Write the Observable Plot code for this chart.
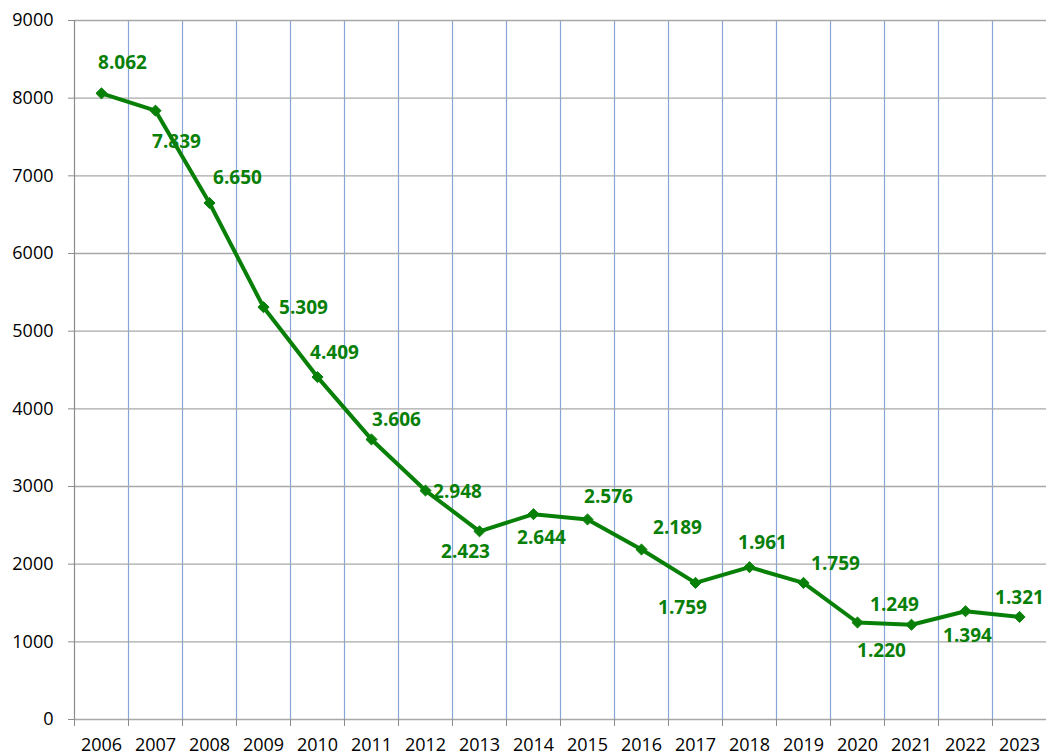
<!DOCTYPE html>
<html>
<head>
<meta charset="utf-8">
<script src="https://cdn.jsdelivr.net/npm/d3@7"></script>
<script src="https://cdn.jsdelivr.net/npm/@observablehq/plot@0.6"></script>
<style>
  html, body { margin: 0; padding: 0; background: #fff; }
  #chart { width: 1046px; height: 756px; }
</style>
</head>
<body>
<div id="chart"></div>
<script>
// ---- data ----
const years = [2006, 2007, 2008, 2009, 2010, 2011, 2012, 2013, 2014, 2015, 2016, 2017, 2018, 2019, 2020, 2021, 2022, 2023];
const values = [8062, 7839, 6650, 5309, 4409, 3606, 2948, 2423, 2644, 2576, 2189, 1759, 1961, 1759, 1249, 1220, 1394, 1321];
const yTicks = [0, 1000, 2000, 3000, 4000, 5000, 6000, 7000, 8000, 9000];

// ---- layout of data labels (pixel offsets from each point) ----
const labelDx = [21, 21, 28, 40, 17, 25, 32, -14, 8, 21, 36, -13, 13, 32, 37, -30, 2, 0];
const labelDy = [-30, 31, -25, 1, -24, -20, 1, 21, 24, -23, -22, 25, -24, -19, -18, 26, 25, -19];

const fmt = v => d3.format(",")(v).replace(/,/g, ".");
const rows = years.map((year, i) => ({year, value: values[i]}));
const boundaries = years.slice(1).map(y => y - 0.5);

const green = "#088008";
const font = "'Open Sans', 'Liberation Sans', sans-serif";

const labelMarks = rows.map((d, i) =>
  Plot.text([d], {
    x: "year", y: "value", text: r => fmt(r.value),
    dx: labelDx[i], dy: labelDy[i],
    fill: green, fontWeight: "bold", fontSize: 19
  })
);

const chart = Plot.plot({
  width: 1046,
  height: 756,
  marginLeft: 74,
  marginRight: 0,
  marginTop: 20,
  marginBottom: 37,
  style: {fontFamily: font, fontSize: "18px", color: "#000", background: "#fff"},
  x: {domain: [years[0] - 0.5, years[years.length - 1] + 0.5], axis: null},
  y: {domain: [0, 9000], axis: null},
  marks: [
    Plot.ruleX(boundaries, {y1: 0, y2: 9000, stroke: "#86a6d8", strokeWidth: 1.2}),
    Plot.ruleY(yTicks, {stroke: "#a8a8a8", strokeWidth: 1.4}),
    Plot.ruleX([years[0] - 0.5], {y1: 0, y2: 9000, stroke: "#8c8c8c", strokeWidth: 1.2}),
    Plot.axisY({ticks: yTicks, tickSize: 6, tickPadding: 15, stroke: "#8c8c8c", tickFormat: d => String(d), fontSize: 18, label: null}),
    Plot.axisX({ticks: [years[0] - 0.5, ...boundaries, years[years.length - 1] + 0.5], tickSize: 7, tickFormat: () => "", stroke: "#8c8c8c", label: null}),
    Plot.axisX({ticks: years, tickSize: 0, tickPadding: 19, tickFormat: d => String(d), fontSize: 18, label: null}),
    Plot.line(rows, {x: "year", y: "value", stroke: green, strokeWidth: 4, strokeLinejoin: "round"}),
    Plot.dot(rows, {x: "year", y: "value", symbol: "diamond2", r: 5, fill: green, stroke: green, strokeWidth: 1}),
    ...labelMarks
  ]
});
document.getElementById("chart").append(chart);
</script>
</body>
</html>
